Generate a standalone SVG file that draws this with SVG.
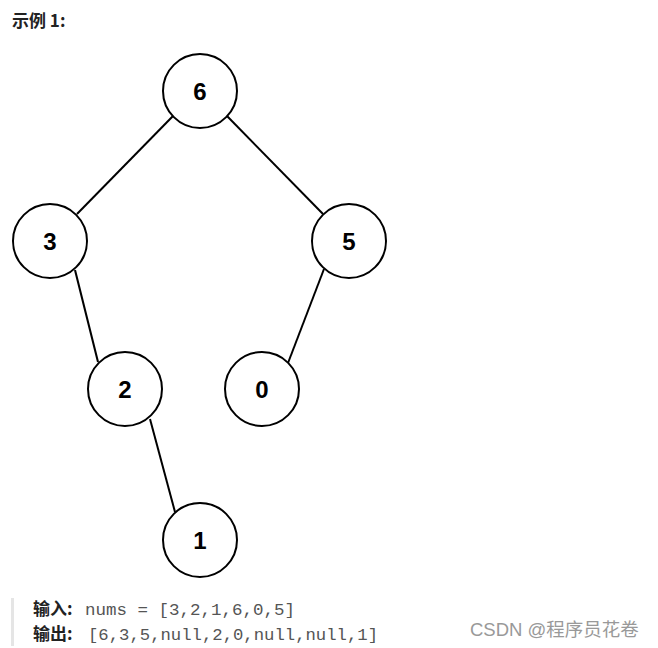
<svg xmlns="http://www.w3.org/2000/svg" width="658" height="648" viewBox="0 0 658 648">
<style>
.node circle{fill:#fff;stroke:#000;stroke-width:2}
.node text{font-family:"Liberation Sans",Arial,sans-serif;font-weight:bold;font-size:24px;text-anchor:middle;fill:#000}
.edges line{stroke:#000;stroke-width:2}
.lbl{font-family:"Noto Sans CJK SC","Liberation Sans",sans-serif;font-weight:bold;font-size:17px;fill:#222}
.mono{font-family:"Liberation Mono","DejaVu Sans Mono",monospace;font-size:17px;fill:#555}
</style>
<rect width="658" height="648" fill="#fff"/>
<text x="12" y="27" class="lbl" font-size="18">示例 1:</text>
<g class="edges">
<line x1="173" y1="116" x2="77" y2="214"/>
<line x1="227" y1="116" x2="323" y2="214"/>
<line x1="75" y1="270" x2="98" y2="362"/>
<line x1="324" y1="269" x2="288" y2="363"/>
<line x1="150" y1="419" x2="175" y2="512"/>
</g>
<g id="n6" class="node"><circle cx="200" cy="91" r="37"/><text x="200" y="100">6</text></g>
<g id="n3" class="node"><circle cx="50" cy="241" r="37"/><text x="50" y="250">3</text></g>
<g id="n5" class="node"><circle cx="349" cy="241" r="37"/><text x="349" y="250">5</text></g>
<g id="n2" class="node"><circle cx="125" cy="389" r="37"/><text x="125" y="398">2</text></g>
<g id="n0" class="node"><circle cx="262" cy="389" r="37"/><text x="262" y="398">0</text></g>
<g id="n1" class="node"><circle cx="200" cy="540" r="37"/><text x="200" y="549">1</text></g>
<rect x="11" y="598" width="3" height="48" fill="#e5e5e5"/>
<text x="33" y="615" class="lbl">输入:</text>
<text x="85" y="615" class="mono" textLength="210" lengthAdjust="spacingAndGlyphs">nums = [3,2,1,6,0,5]</text>
<text x="33" y="640" class="lbl">输出:</text>
<text x="88" y="640" class="mono" textLength="290" lengthAdjust="spacingAndGlyphs">[6,3,5,null,2,0,null,null,1]</text>
<text x="470" y="636" font-family="'Liberation Sans','Noto Sans CJK SC',sans-serif" font-size="18.5" fill="#999">CSDN @程序员花卷</text>
</svg>
